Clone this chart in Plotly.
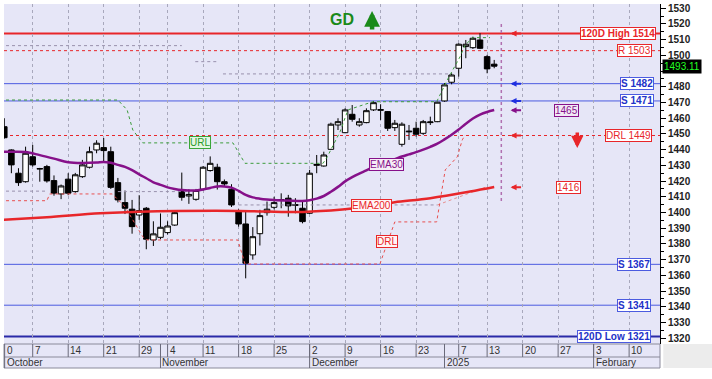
import plotly.graph_objects as go

FONT = "Arial, Liberation Sans, sans-serif"

# ---------------- data ----------------
day_index = list(range(1, 71))
opens = [1454.6, 1439.8, 1425.0, 1419.6, 1435.5, 1427.6, 1429.2, 1420.3, 1411.8, 1421.2,
         1413.3, 1422.8, 1428.8, 1439.8, 1441.3, 1438.7, 1419.0, 1406.3, 1402.1, 1398.4,
         1402.7, 1382.5, 1384.2, 1387.2, 1392.0, 1414.0, 1410.5, 1408.4, 1414.8, 1426.7,
         1428.8, 1419.6, 1414.8, 1400.5, 1392.7, 1373.0, 1386.5, 1399.9, 1403.3, 1407.8,
         1409.1, 1405.0, 1402.7, 1399.5, 1430.0, 1429.6, 1440.2, 1455.7, 1450.8, 1462.5,
         1455.7, 1457.2, 1465.3, 1465.0, 1464.2, 1454.0, 1443.4, 1451.3, 1453.6, 1450.4,
         1457.2, 1457.8, 1471.0, 1482.9, 1491.8, 1505.6, 1504.9, 1509.8, 1499.2, 1494.4]
highs = [1460.0, 1440.2, 1428.2, 1441.9, 1443.0, 1428.4, 1430.3, 1423.6, 1417.8, 1425.0,
         1425.2, 1433.5, 1441.9, 1446.0, 1447.4, 1441.9, 1422.0, 1414.0, 1408.0, 1411.0,
         1403.5, 1394.4, 1399.4, 1394.4, 1400.5, 1425.4, 1414.8, 1415.0, 1429.5, 1435.7,
         1431.0, 1421.0, 1418.0, 1402.0, 1400.9, 1390.7, 1401.7, 1407.0, 1410.0, 1412.2,
         1411.2, 1409.1, 1406.9, 1427.1, 1436.6, 1438.7, 1457.2, 1460.0, 1466.3, 1468.4,
         1460.0, 1466.3, 1471.0, 1468.9, 1464.6, 1458.9, 1457.4, 1455.7, 1457.8, 1458.9,
         1461.0, 1470.5, 1482.3, 1488.6, 1507.7, 1509.8, 1511.9, 1514.1, 1500.3, 1497.1]
lows = [1447.0, 1425.0, 1416.9, 1419.0, 1429.2, 1419.6, 1419.0, 1410.7, 1408.5, 1411.0,
        1412.6, 1422.0, 1428.0, 1437.7, 1431.6, 1415.0, 1406.4, 1399.0, 1386.5, 1395.3,
        1376.6, 1378.7, 1383.0, 1386.0, 1391.5, 1407.5, 1405.5, 1407.5, 1414.0, 1426.0,
        1414.6, 1416.5, 1403.5, 1391.0, 1358.1, 1370.0, 1379.0, 1398.0, 1402.0, 1402.7,
        1397.3, 1399.5, 1393.1, 1399.0, 1425.0, 1429.2, 1440.0, 1452.5, 1450.5, 1457.8,
        1454.6, 1456.8, 1464.6, 1458.9, 1451.9, 1451.9, 1441.9, 1446.2, 1448.3, 1449.4,
        1455.7, 1457.5, 1470.5, 1481.6, 1486.5, 1498.2, 1504.1, 1504.0, 1488.6, 1491.8]
closes = [1447.6, 1430.3, 1419.0, 1437.7, 1430.3, 1428.0, 1420.1, 1412.3, 1416.9, 1412.3,
          1424.0, 1430.3, 1438.7, 1444.1, 1439.4, 1416.0, 1408.0, 1402.7, 1391.0, 1401.2,
          1383.0, 1386.4, 1390.6, 1391.4, 1399.9, 1409.7, 1411.5, 1414.0, 1428.8, 1431.3,
          1419.6, 1418.2, 1404.8, 1392.7, 1367.7, 1384.6, 1398.0, 1402.1, 1406.3, 1408.2,
          1404.2, 1404.6, 1394.2, 1425.0, 1430.6, 1436.6, 1456.2, 1457.8, 1465.3, 1459.3,
          1457.8, 1464.8, 1469.9, 1465.5, 1453.6, 1456.8, 1456.2, 1451.7, 1449.8, 1457.8,
          1457.6, 1470.2, 1481.2, 1487.5, 1507.1, 1507.1, 1510.9, 1504.5, 1491.4, 1493.11]
last_price = 1493.11

ema30_idx = [0.5, 2, 4, 6, 8, 10, 12, 14, 15, 16, 17, 18, 19, 20, 21, 22, 23, 24, 25, 26,
             27, 28, 29, 30, 31, 32, 33, 34, 35, 36, 37, 38, 39, 41, 43, 44, 45, 46, 47, 48,
             49, 50, 51, 52, 53, 54, 55, 56, 57, 58, 59, 60, 61, 62, 63, 64, 65, 66, 67, 68,
             69, 70]
ema30_val = [1438.7, 1438.7, 1438.5, 1436.5, 1434.3, 1432.0, 1431.5, 1431.8, 1432.2, 1431.6,
             1430.3, 1429.0, 1427.0, 1424.3, 1421.8, 1419.2, 1417.6, 1416.0, 1415.0, 1414.3,
             1414.0, 1414.0, 1414.6, 1415.6, 1416.6, 1416.6, 1415.8, 1413.8, 1411.2, 1409.6,
             1408.8, 1408.3, 1408.0, 1407.6, 1407.3, 1407.8, 1408.8, 1410.5, 1413.2, 1416.3,
             1419.8, 1422.5, 1424.8, 1426.8, 1429.0, 1431.0, 1432.5, 1434.0, 1435.6, 1437.0,
             1438.4, 1440.0, 1441.8, 1443.8, 1446.5, 1449.5, 1452.8, 1456.5, 1459.8, 1462.3,
             1464.0, 1465.2]

ema200_idx = [0.5, 7, 14.5, 20, 34, 42, 47, 50, 53, 56, 61, 66.6, 70]
ema200_val = [1395.2, 1397.0, 1399.5, 1400.5, 1401.0, 1400.3, 1401.3, 1402.5, 1404.5, 1406.5,
              1409.1, 1413.3, 1416.2]

url_idx = [0.4, 17.0, 18.3, 19.1, 20.5, 33.2, 34.9, 45.9, 46.5, 48.3, 49.4, 52.9, 61.9,
           63.4, 65.2, 65.9, 67.0, 69.4]
url_val = [1471.6, 1471.6, 1465.3, 1452.5, 1444.3, 1444.3, 1431.3, 1431.3, 1435.5, 1451.5,
           1465.3, 1470.5, 1470.5, 1484.4, 1499.2, 1506.6, 1511.3, 1511.3]

drl_idx = [0.4, 7.0, 7.4, 16.2, 18.0, 20.5, 21.1, 33.9, 34.9, 53.9, 56.0, 61.9, 63.1, 64.8,
           65.5, 65.9]
drl_val = [1407.5, 1407.5, 1411.8, 1411.8, 1403.7, 1384.6, 1382.5, 1382.5, 1367.2, 1367.2,
           1394.0, 1394.0, 1427.1, 1435.4, 1446.2, 1449.3]

upper_trace_idx = [0.4, 26, None, 27.9, 31.1, None, 31.8, 63.8]
upper_trace_val = [1506.2, 1506.2, None, 1496.0, 1496.0, None, 1488.2, 1488.2]
lower_trace_idx = [0.4, 7, None, 17, 27, None, 34, 62]
lower_trace_val = [1413.6, 1413.6, None, 1413.3, 1413.3, None, 1404.8, 1404.8]
rise_trace_idx = [62, 69]
rise_trace_val = [1404.8, 1416.5]

level_vals = [1514, 1503, 1482, 1471, 1449, 1367, 1341, 1321]
level_text = ["120D High 1514", "R 1503", "S 1482", "S 1471", "DRL 1449", "S 1367", "S 1341",
              "120D Low 1321"]
level_kind = ["high", "res", "sup", "sup", "drl", "sup", "sup", "low"]

marker_vals = [1514, 1482, 1471, 1465, 1449, 1416]
marker_kind = ["red", "blue", "blue", "purple", "red", "red"]

y_ticks = list(range(1320, 1531, 10))
y_tick_txt = ["" if v == 1490 else f"<b>{v}</b>" for v in y_ticks]

tick_idx = [5, 10, 15, 20, 24, 29, 34, 39, 44, 49, 54, 59, 65, 69, 74, 79, 84, 89]
tick_txt = ["7", "14", "21", "29", "4", "11", "18", "25", "2", "9", "16", "23", "7", "13",
            "20", "27", "3", "10"]
month_idx = [23, 44, 63, 84]
month_txt = ["November", "December", "2025", "February"]

# ---------------- styling ----------------
RED = "#e8262a"
BLUE = "#4b5be0"
BLUE_TXT = "#2232c8"
PURPLE = "#86118a"
GREEN = "#1a8a1a"
BG = "#e6e6f7"

X_RANGE = [0.96, 93.35]
Y_RANGE = [1316.3, 1532.7]
PLOT_H = 340.0

fig = go.Figure()

fig.add_trace(go.Scatter(x=upper_trace_idx, y=upper_trace_val, mode="lines",
                         line=dict(color="#9890ac", width=1, dash="dot"), hoverinfo="skip"))
fig.add_trace(go.Scatter(x=lower_trace_idx, y=lower_trace_val, mode="lines",
                         line=dict(color="#9890ac", width=1, dash="dot"), hoverinfo="skip"))
fig.add_trace(go.Scatter(x=rise_trace_idx, y=rise_trace_val, mode="lines",
                         line=dict(color="#e89090", width=1, dash="dot"), hoverinfo="skip"))
fig.add_trace(go.Scatter(x=url_idx, y=url_val, mode="lines",
                         line=dict(color="#3c9c3c", width=1, dash="dot"), hoverinfo="skip"))
fig.add_trace(go.Scatter(x=drl_idx, y=drl_val, mode="lines",
                         line=dict(color="#e85050", width=1, dash="dot"), hoverinfo="skip"))
fig.add_trace(go.Scatter(x=ema200_idx, y=ema200_val, mode="lines",
                         line=dict(color=RED, width=2.5, shape="spline"), hoverinfo="skip"))
fig.add_trace(go.Scatter(x=ema30_idx, y=ema30_val, mode="lines",
                         line=dict(color=PURPLE, width=2.5, shape="spline"), hoverinfo="skip"))
fig.add_trace(go.Candlestick(
    x=day_index, open=opens, high=highs, low=lows, close=closes,
    increasing=dict(line=dict(color="black", width=1), fillcolor="white"),
    decreasing=dict(line=dict(color="black", width=1), fillcolor="black"),
    whiskerwidth=0, hoverinfo="skip"))

shapes = []
annotations = []

# horizontal levels
for v, kind in zip(level_vals, level_kind):
    if kind == "high":
        ln = dict(color=RED, width=2)
    elif kind in ("res", "drl"):
        ln = dict(color=RED, width=1, dash="dot")
    elif kind == "low":
        ln = dict(color="#2a2aa8", width=2)
    else:
        ln = dict(color=BLUE, width=1)
    shapes.append(dict(type="line", xref="paper", x0=0, x1=1, yref="y", y0=v, y1=v,
                       line=ln, layer="below"))

# vertical marker line
shapes.append(dict(type="line", xref="x", x0=71, x1=71, yref="y", y0=1520, y1=1407,
                   line=dict(color="#b070b0", width=1.5, dash="dot")))

# level label boxes
label_x = {"high": 92.75, "res": 92.2, "sup": 92.5, "drl": 92.2, "low": 92.1}
for v, txt, kind in zip(level_vals, level_text, level_kind):
    if kind in ("high", "res", "drl"):
        col, tcol = RED, RED
    else:
        col, tcol = BLUE, BLUE_TXT
    x = label_x[kind]
    if kind == "sup" and v < 1400:
        x = 92.1
    bold = kind in ("high", "sup", "low")
    annotations.append(dict(x=x, y=v, xref="x", yref="y", showarrow=False,
                            text=f"<b>{txt}</b>" if bold else txt,
                            xanchor="right", yanchor="middle",
                            font=dict(family=FONT, size=10, color=tcol),
                            bgcolor="white", bordercolor=col, borderwidth=1, borderpad=0))

# value boxes 1465 / 1416
annotations.append(dict(x=80.25, y=1465, xref="x", yref="y", showarrow=False, text="1465",
                        font=dict(family=FONT, size=10, color=PURPLE), bgcolor="#f1e9f5",
                        bordercolor=PURPLE, borderwidth=1, borderpad=0))
annotations.append(dict(x=80.4, y=1416, xref="x", yref="y", showarrow=False, text="1416",
                        font=dict(family=FONT, size=10, color=RED), bgcolor="white",
                        bordercolor=RED, borderwidth=1, borderpad=0))

# small left-pointing arrows
arrow_col = {"red": RED, "blue": "#2030e0", "purple": PURPLE}
for v, k in zip(marker_vals, marker_kind):
    annotations.append(dict(x=72.3, y=v, xref="x", yref="y", text="", showarrow=True,
                            ax=12, ay=0, arrowhead=2, arrowsize=0.6, arrowwidth=2,
                            arrowcolor=arrow_col[k]))

# red down arrow
annotations.append(dict(x=81.7, y=1441.0, xref="x", yref="y", text="", showarrow=True,
                        ax=0, ay=-17, arrowhead=2, arrowsize=0.7, arrowwidth=3.5,
                        arrowcolor=RED))
# GD + green up arrow
annotations.append(dict(x=48.6, y=1522.6, xref="x", yref="y", showarrow=False,
                        text="<b>GD</b>", font=dict(family=FONT, size=16, color=GREEN)))
annotations.append(dict(x=52.8, y=1528.3, xref="x", yref="y", text="", showarrow=True,
                        ax=0, ay=20, arrowhead=2, arrowsize=0.7, arrowwidth=4.5,
                        arrowcolor=GREEN))

# line labels
annotations.append(dict(x=28.6, y=1444.5, xref="x", yref="y", showarrow=False, text="URL",
                        font=dict(family=FONT, size=10, color="#2a9a2a"), bgcolor="#e4f6e4",
                        bordercolor="#3aa63a", borderwidth=1, borderpad=0))
annotations.append(dict(x=54.8, y=1430.3, xref="x", yref="y", showarrow=False, text="EMA30",
                        font=dict(family=FONT, size=10, color=PURPLE), bgcolor="#f6ecf6",
                        bordercolor=PURPLE, borderwidth=1, borderpad=0))
annotations.append(dict(x=52.65, y=1404.2, xref="x", yref="y", showarrow=False, text="EMA200",
                        font=dict(family=FONT, size=10, color=RED), bgcolor="#fff4f4",
                        bordercolor=RED, borderwidth=1, borderpad=0))
annotations.append(dict(x=54.9, y=1381.6, xref="x", yref="y", showarrow=False, text="DRL",
                        font=dict(family=FONT, size=10, color=RED), bgcolor="#fff4f4",
                        bordercolor=RED, borderwidth=1, borderpad=0))

# last price tag
annotations.append(dict(x=1, y=last_price, xref="paper", yref="y", showarrow=False,
                        text=f"{last_price:.2f}", xanchor="left", xshift=2,
                        font=dict(family=FONT, size=10, color="#22ff22"), bgcolor="black",
                        borderpad=1))

# ---------------- custom two-row date axis ----------------
r1 = -13 / PLOT_H
r2 = -24 / PLOT_H
shapes.append(dict(type="rect", xref="paper", x0=0, x1=1, yref="paper", y0=r2, y1=0,
                   fillcolor=BG, line=dict(color="#8a8a9a", width=1)))
shapes.append(dict(type="rect", xref="paper", x0=1.005, x1=1.08, yref="paper", y0=r2, y1=0,
                   fillcolor="#ececec", line=dict(width=0)))
shapes.append(dict(type="line", xref="paper", x0=0, x1=1, yref="paper", y0=r1, y1=r1,
                   line=dict(color="#8a8a9a", width=1)))
for t in tick_idx:
    shapes.append(dict(type="line", xref="x", x0=t, x1=t, yref="paper", y0=r1, y1=0,
                       line=dict(color="#6a6a7a", width=1)))
for m in month_idx:
    shapes.append(dict(type="line", xref="x", x0=m, x1=m, yref="paper", y0=r2, y1=0,
                       line=dict(color="#6a6a7a", width=1)))
shapes.append(dict(type="line", xref="paper", x0=0.001, x1=0.001, yref="paper", y0=r2, y1=0,
                   line=dict(color="#6a6a7a", width=1)))

axfont = dict(family=FONT, size=10, color="#333")
annotations.append(dict(x=0, y=r1 / 2, xref="paper", yref="paper", text="0",
                        showarrow=False, xanchor="left", xshift=1, yanchor="middle",
                        font=axfont))
for t, s in zip(tick_idx, tick_txt):
    annotations.append(dict(x=t, y=r1 / 2, xref="x", yref="paper", text=s, showarrow=False,
                            xanchor="left", xshift=0, yanchor="middle", font=axfont))
annotations.append(dict(x=0, y=(r1 + r2) / 2, xref="paper", yref="paper", text="October",
                        showarrow=False, xanchor="left", xshift=1, yanchor="middle",
                        font=axfont))
for m, s in zip(month_idx, month_txt):
    annotations.append(dict(x=m, y=(r1 + r2) / 2, xref="x", yref="paper", text=s,
                            showarrow=False, xanchor="left", xshift=0, yanchor="middle",
                            font=axfont))

fig.update_layout(
    width=712, height=379,
    margin=dict(l=4, r=52, t=4, b=35),
    paper_bgcolor="white", plot_bgcolor=BG,
    showlegend=False,
    boxgap=0.22, boxgroupgap=0,
    shapes=shapes, annotations=annotations,
    xaxis=dict(range=X_RANGE, tickvals=tick_idx, showticklabels=False, ticks="",
               showgrid=True, gridcolor="#a8a8bc", griddash="dot", gridwidth=1,
               zeroline=False, showline=False, rangeslider=dict(visible=False),
               fixedrange=True),
    yaxis=dict(range=Y_RANGE, side="right", tickvals=y_ticks, ticktext=y_tick_txt,
               ticks="outside", ticklen=5, tickcolor="black", showline=True,
               linecolor="black", linewidth=1, showgrid=False, zeroline=False,
               tickfont=dict(family=FONT, size=10, color="#222"),
               minor=dict(tick0=1315, dtick=5, ticks="outside", ticklen=3,
                          tickcolor="black", showgrid=False),
               fixedrange=True),
)

fig.write_html("out.html", config={"displayModeBar": False},
               post_script="document.body.style.margin='0';document.body.style.padding='0';")
